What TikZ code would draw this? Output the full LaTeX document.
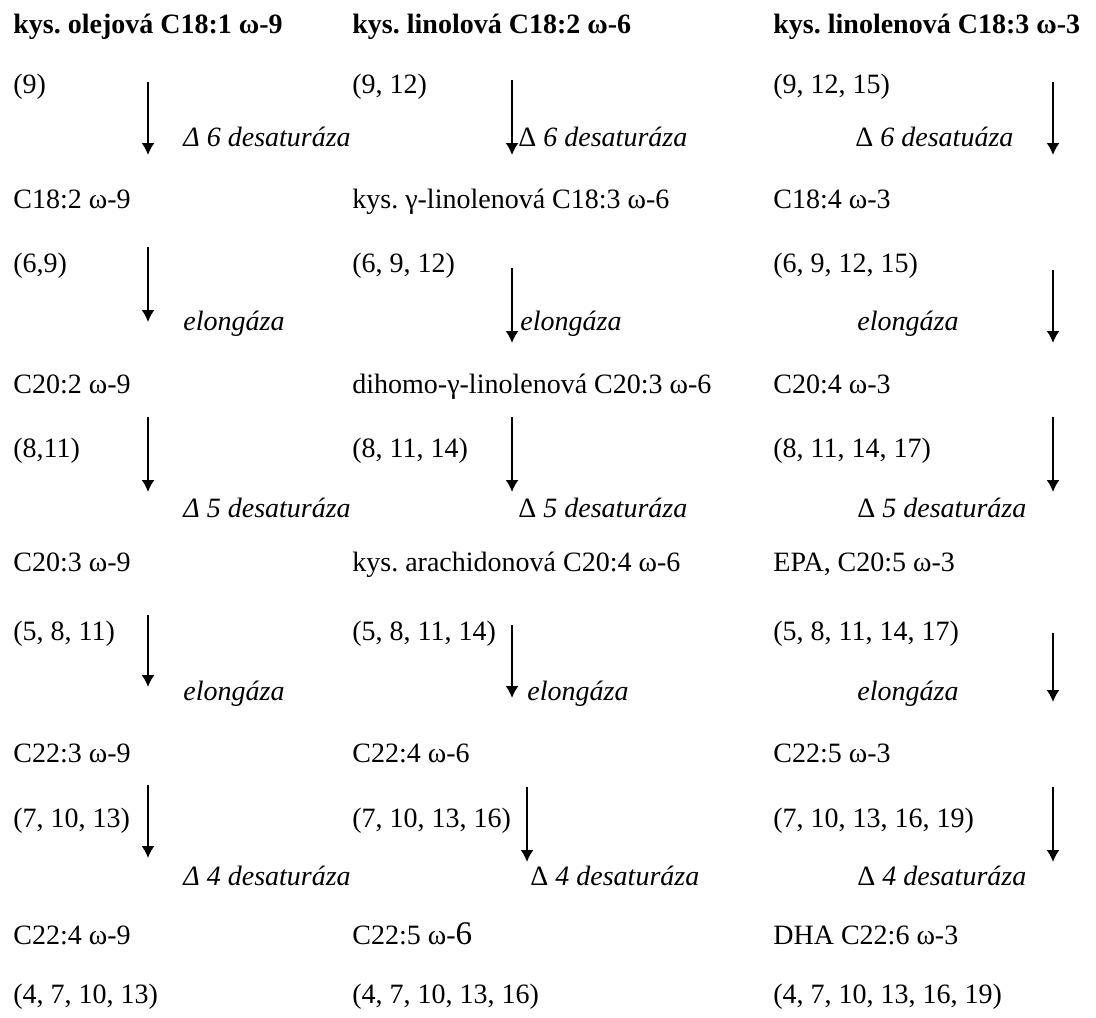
\documentclass[tikz,border=0pt]{standalone}
\usepackage{fontspec}
\setmainfont{Liberation Serif}
\usetikzlibrary{arrows.meta}
\frenchspacing
\tikzset{
  txt/.style={anchor=base west, inner sep=0pt, font=\fontsize{14}{17}\selectfont},
  hlav/.style={txt, font=\fontsize{14}{17}\selectfont\bfseries},
  enz/.style={txt, font=\fontsize{14}{17}\selectfont\itshape},
  sipka/.style={-{Latex[length=6pt,width=6.5pt]}, line width=0.9pt},
}
\begin{document}
\begin{tikzpicture}[x=0.5pt, y=-0.5pt]
			\useasboundingbox (0,0) rectangle (1096,1017);
			% omega-9
			\node[hlav] (o1) at (13,33) {kys. olejová C18:1 ω-9};
			\node[txt] (op1) at (13,93) {(9)};
			\node[txt] (o2) at (13,208) {C18:2 ω-9};
			\node[txt] (op2) at (13,272) {(6,9)};
			\node[txt] (o3) at (13,393) {C20:2 ω-9};
			\node[txt] (op3) at (13,457) {(8,11)};
			\node[txt] (o4) at (13,571) {C20:3 ω-9};
			\node[txt] (op4) at (13,640) {(5, 8, 11)};
			\node[txt] (o5) at (13,762) {C22:3 ω-9};
			\node[txt] (op5) at (13,827) {(7, 10, 13)};
			\node[txt] (o6) at (13,944) {C22:4 ω-9};
			\node[txt] (op6) at (13,1003) {(4, 7, 10, 13)};
			\node[enz] (oe1) at (183,146) {Δ 6 desaturáza};
			\node[enz] (oe2) at (183,330) {elongáza};
			\node[enz] (oe3) at (183,517) {Δ 5 desaturáza};
			\node[enz] (oe4) at (183,700) {elongáza};
			\node[enz] (oe5) at (183,885) {Δ 4 desaturáza};
			% omega-6
			\node[hlav] (l1) at (352,33) {kys. linolová C18:2 ω-6};
			\node[txt] (lp1) at (352,93) {(9, 12)};
			\node[txt] (l2) at (352,208) {kys. γ-linolenová C18:3 ω-6};
			\node[txt] (lp2) at (352,272) {(6, 9, 12)};
			\node[txt] (l3) at (352,393) {dihomo-γ-linolenová C20:3 ω-6};
			\node[txt] (lp3) at (352,457) {(8, 11, 14)};
			\node[txt] (l4) at (352,571) {kys. arachidonová C20:4 ω-6};
			\node[txt] (lp4) at (352,640) {(5, 8, 11, 14)};
			\node[txt] (l5) at (352,762) {C22:4 ω-6};
			\node[txt] (lp5) at (352,827) {(7, 10, 13, 16)};
			\node[txt] (l6) at (352,944) {C22:5 ω-{\fontsize{16.5}{17}\selectfont 6}};
			\node[txt] (lp6) at (352,1003) {(4, 7, 10, 13, 16)};
			\node[enz] (le1) at (518,146) {\textup{Δ} 6 desaturáza};
			\node[enz] (le2) at (520,330) {elongáza};
			\node[enz] (le3) at (518,517) {\textup{Δ} 5 desaturáza};
			\node[enz] (le4) at (527,700) {elongáza};
			\node[enz] (le5) at (530,885) {\textup{Δ} 4 desaturáza};
			% omega-3
			\node[hlav] (n1) at (773,33) {kys. linolenová C18:3 ω-3};
			\node[txt] (np1) at (773,93) {(9, 12, 15)};
			\node[txt] (n2) at (773,208) {C18:4 ω-3};
			\node[txt] (np2) at (773,272) {(6, 9, 12, 15)};
			\node[txt] (n3) at (773,393) {C20:4 ω-3};
			\node[txt] (np3) at (773,457) {(8, 11, 14, 17)};
			\node[txt] (n4) at (773,571) {EPA, C20:5 ω-3};
			\node[txt] (np4) at (773,640) {(5, 8, 11, 14, 17)};
			\node[txt] (n5) at (773,762) {C22:5 ω-3};
			\node[txt] (np5) at (773,827) {(7, 10, 13, 16, 19)};
			\node[txt] (n6) at (773,944) {DHA C22:6 ω-3};
			\node[txt] (np6) at (773,1003) {(4, 7, 10, 13, 16, 19)};
			\node[enz] (ne1) at (855,146) {\textup{Δ} 6 desatuáza};
			\node[enz] (ne2) at (857,330) {elongáza};
			\node[enz] (ne3) at (857,517) {\textup{Δ} 5 desaturáza};
			\node[enz] (ne4) at (857,700) {elongáza};
			\node[enz] (ne5) at (857,885) {\textup{Δ} 4 desaturáza};
			% sipky
			\coordinate (oa1) at (148,82);
			\coordinate (ob1) at (148,155);
			\coordinate (oa2) at (148,247);
			\coordinate (ob2) at (148,322);
			\coordinate (oa3) at (148,417);
			\coordinate (ob3) at (148,492);
			\coordinate (oa4) at (148,615);
			\coordinate (ob4) at (148,687);
			\coordinate (oa5) at (148,785);
			\coordinate (ob5) at (148,858);
			\coordinate (la1) at (512,80);
			\coordinate (lb1) at (512,155);
			\coordinate (la2) at (512,268);
			\coordinate (lb2) at (512,343);
			\coordinate (la3) at (512,417);
			\coordinate (lb3) at (512,492);
			\coordinate (la4) at (512,625);
			\coordinate (lb4) at (512,698);
			\coordinate (la5) at (527,787);
			\coordinate (lb5) at (527,862);
			\coordinate (na1) at (1053,82);
			\coordinate (nb1) at (1053,155);
			\coordinate (na2) at (1053,270);
			\coordinate (nb2) at (1053,343);
			\coordinate (na3) at (1053,417);
			\coordinate (nb3) at (1053,492);
			\coordinate (na4) at (1053,633);
			\coordinate (nb4) at (1053,702);
			\coordinate (na5) at (1053,787);
			\coordinate (nb5) at (1053,862);
			\draw[sipka] (oa1) -- (ob1);
			\draw[sipka] (oa2) -- (ob2);
			\draw[sipka] (oa3) -- (ob3);
			\draw[sipka] (oa4) -- (ob4);
			\draw[sipka] (oa5) -- (ob5);
			\draw[sipka] (la1) -- (lb1);
			\draw[sipka] (la2) -- (lb2);
			\draw[sipka] (la3) -- (lb3);
			\draw[sipka] (la4) -- (lb4);
			\draw[sipka] (la5) -- (lb5);
			\draw[sipka] (na1) -- (nb1);
			\draw[sipka] (na2) -- (nb2);
			\draw[sipka] (na3) -- (nb3);
			\draw[sipka] (na4) -- (nb4);
			\draw[sipka] (na5) -- (nb5);
		\end{tikzpicture}
\end{document}
